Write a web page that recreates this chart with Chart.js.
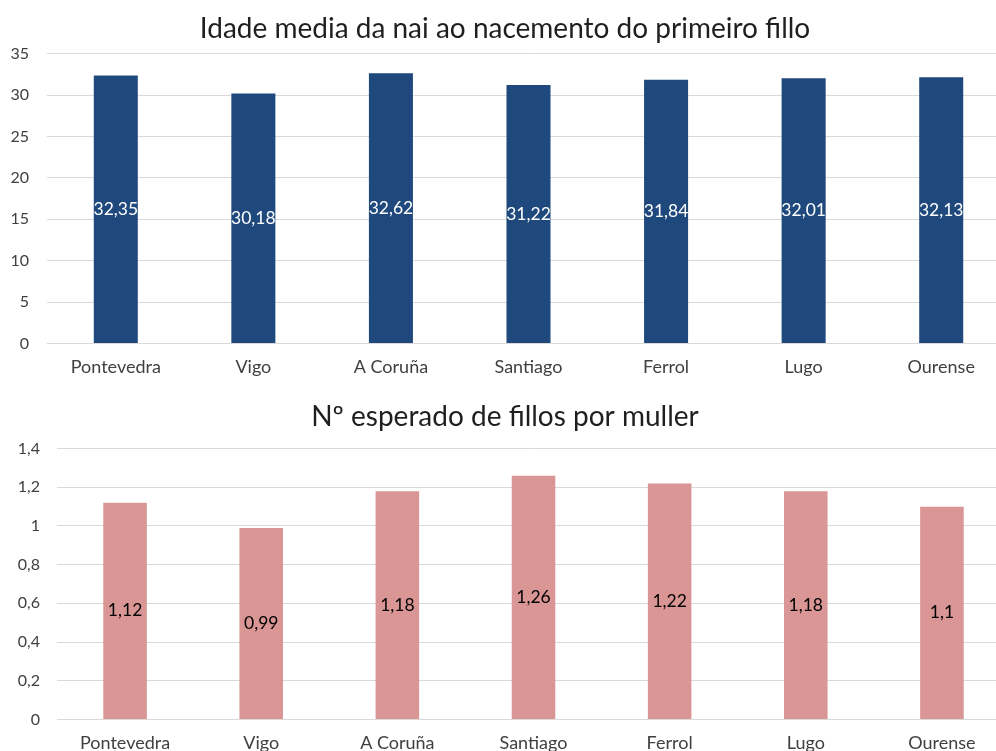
<!DOCTYPE html>
<html lang="gl">
<head>
    <meta charset="UTF-8">
    <script src="https://cdn.jsdelivr.net/npm/chart.js"></script>
    <title>Idade media e fillos por muller</title>
    <style>
        body {
            margin: 0;
            padding: 0;
            background: #ffffff;
            overflow: hidden;
        }
        .wrap {
            width: 1010px;
            position: relative;
        }
        #box1 { height: 385px; position: relative; }
        #box2 { height: 372px; position: relative; }
    </style>
</head>
<body>
    <div class="wrap">
        <div id="box1"><canvas id="chartIdade"></canvas></div>
        <div id="box2"><canvas id="chartFillos"></canvas></div>
    </div>

    <script>
        // datos
        const cidades = ['Pontevedra', 'Vigo', 'A Coruña', 'Santiago', 'Ferrol', 'Lugo', 'Ourense'];
        const idadeMedia = [32.35, 30.18, 32.62, 31.22, 31.84, 32.01, 32.13];
        const fillosPorMuller = [1.12, 0.99, 1.18, 1.26, 1.22, 1.18, 1.1];

        const tituloIdade = 'Idade media da nai ao nacemento do primeiro fillo';
        const tituloFillos = 'Nº esperado de fillos por muller';

        const FONT = 'Lato, "Open Sans", sans-serif';

        function coma(v) {
            return String(Math.round(v * 100) / 100).replace('.', ',');
        }

        // etiquetas no medio da barra
        const etiquetasPlugin = {
            id: 'etiquetas',
            afterDatasetsDraw(chart, args, opts) {
                const ctx = chart.ctx;
                const meta = chart.getDatasetMeta(0);
                const data = chart.data.datasets[0].data;
                ctx.save();
                ctx.font = '17.5px ' + FONT;
                ctx.fillStyle = opts.color;
                ctx.textAlign = 'center';
                ctx.textBaseline = 'middle';
                meta.data.forEach((bar, i) => {
                    ctx.fillText(coma(data[i]), bar.x, (bar.y + bar.base) / 2);
                });
                ctx.restore();
            }
        };

        function crearGrafico(id, valores, cor, corEtiqueta, titulo, maximo, paso, cfg) {
            return new Chart(document.getElementById(id), {
                type: 'bar',
                data: {
                    labels: cidades,
                    datasets: [{
                        data: valores,
                        backgroundColor: cor,
                        barPercentage: 0.32,
                        categoryPercentage: 1
                    }]
                },
                plugins: [etiquetasPlugin],
                options: {
                    responsive: true,
                    maintainAspectRatio: false,
                    animation: false,
                    layout: { padding: { left: 0, right: 0, top: 0, bottom: cfg.padAbaixo } },
                    plugins: {
                        legend: { display: false },
                        tooltip: { enabled: false },
                        etiquetas: { color: corEtiqueta },
                        title: {
                            display: true,
                            text: titulo,
                            color: '#1f1f1f',
                            font: { family: FONT, size: 28, weight: 'normal', lineHeight: 1.2 },
                            padding: { top: cfg.titArriba, bottom: cfg.titAbaixo }
                        }
                    },
                    scales: {
                        x: {
                            grid: { display: false, drawTicks: false },
                            border: { display: false },
                            ticks: {
                                color: '#404040',
                                font: { family: FONT, size: 18, lineHeight: 1.2 },
                                padding: 13
                            }
                        },
                        y: {
                            min: 0,
                            max: maximo,
                            afterFit: (scale) => { scale.width = cfg.anchoEixo; },
                            grid: { color: '#d9d9d9', lineWidth: 1, drawTicks: false },
                            border: { display: false },
                            ticks: {
                                stepSize: paso,
                                color: '#404040',
                                padding: cfg.padTicks,
                                font: { family: FONT, size: 16 },
                                callback: (v) => coma(v)
                            }
                        }
                    }
                }
            });
        }

        crearGrafico('chartIdade', idadeMedia, '#1f497d', '#ffffff', tituloIdade, 35, 5,
            { anchoEixo: 47, padTicks: 18, titArriba: 12, titAbaixo: 8, padAbaixo: -6 });
        crearGrafico('chartFillos', fillosPorMuller, '#d99694', '#000000', tituloFillos, 1.4, 0.2,
            { anchoEixo: 57, padTicks: 17, titArriba: 15, titAbaixo: 15, padAbaixo: -10 });
    </script>
</body>
</html>
